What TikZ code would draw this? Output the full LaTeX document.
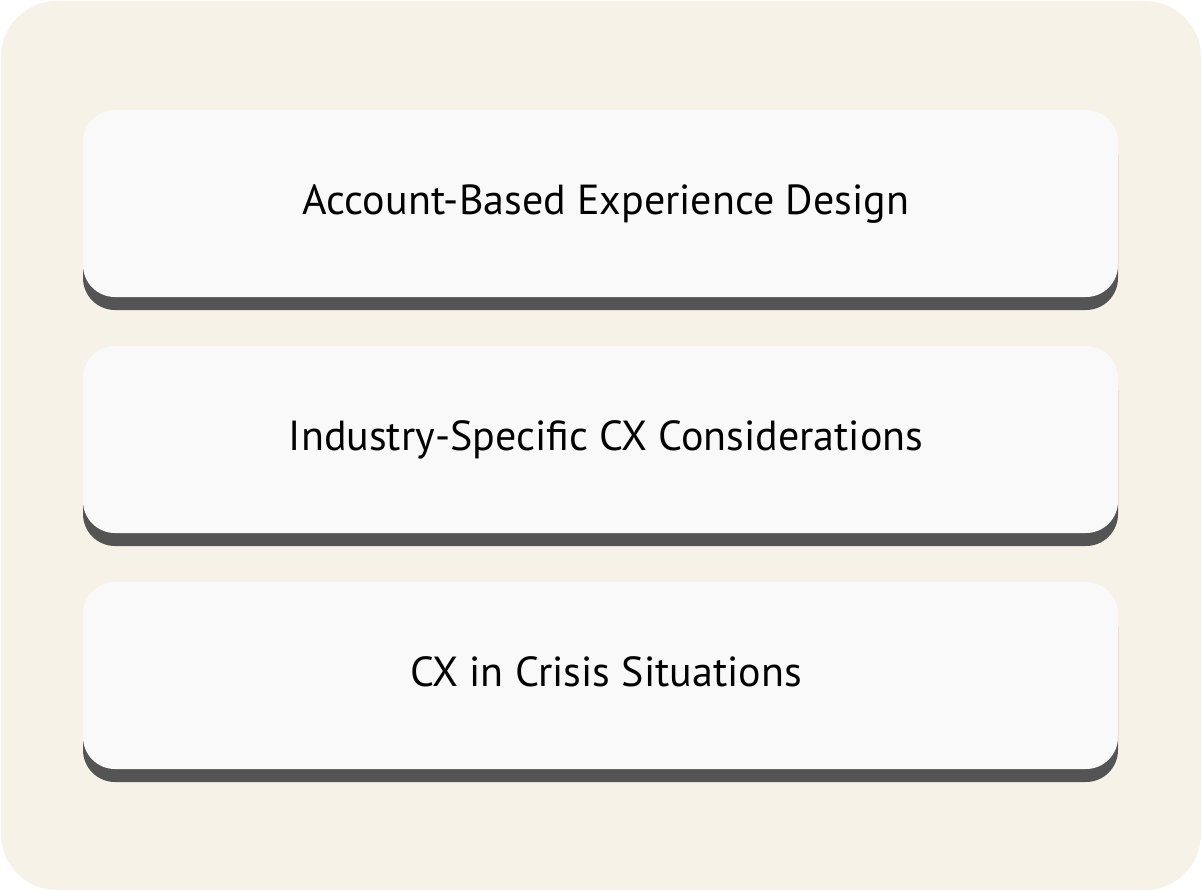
\documentclass[tikz,border=0pt]{standalone}
\usepackage{fontspec}
\setmainfont{PT Sans}
\usepackage{tikz}
\definecolor{outerbg}{HTML}{F6F2E8}
\definecolor{cardfill}{HTML}{F9F9F9}
\definecolor{shadowgrey}{HTML}{545454}
\tikzset{
  card/.style={fill=cardfill, rounded corners=32pt, minimum width=1035pt,
    minimum height=187pt, inner sep=0pt, font=\fontsize{42}{50}\selectfont},
  cardshadow/.style={fill=shadowgrey, rounded corners=32pt}
}
\begin{document}
\begin{tikzpicture}[x=1pt, y=-1pt]
\useasboundingbox (0,0) rectangle (1202,891);
\fill[outerbg, rounded corners=56pt] (1,1) rectangle (1201,890);
\foreach \y/\name/\txt in {110/acct/{Account-Based Experience Design},
    346/industry/{Industry-Specific CX Considerations},
    582/crisis/{CX in Crisis Situations}}
{
  \fill[cardshadow] (83,\y+13) rectangle (1118,\y+200);
  \node[card] (\name) at (600.5,\y+93.5) {};
  \node[font=\fontsize{42}{50}\selectfont, anchor=base] (\name-text)
    at (606,\y+104) {\txt};
}
\end{tikzpicture}
\end{document}
